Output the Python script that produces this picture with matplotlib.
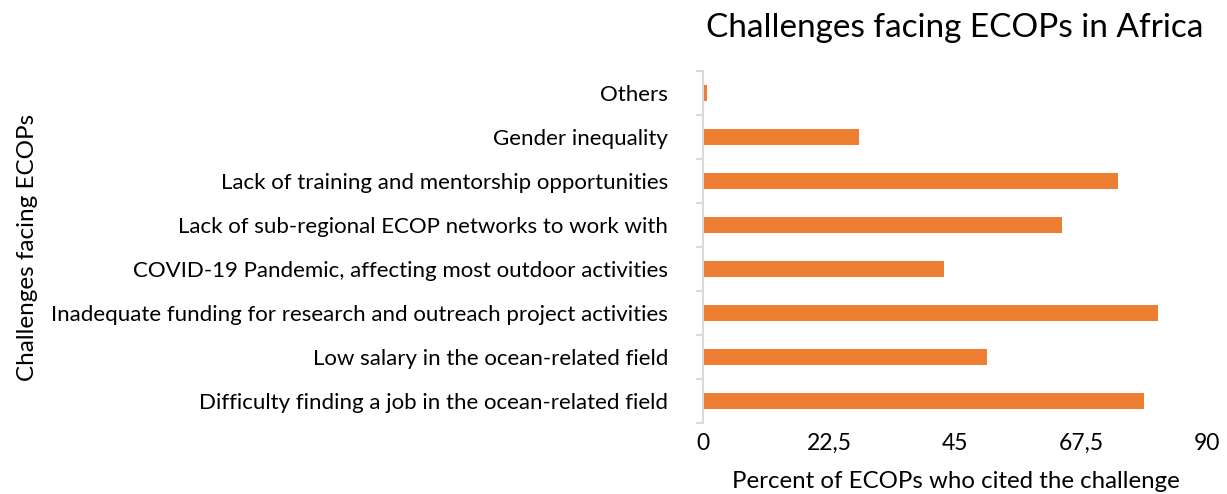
import matplotlib as mpl
mpl.use('Agg')
import matplotlib.pyplot as plt
import numpy as np

plt.rcParams['font.family'] = ['Lato', 'DejaVu Sans']

# data, bottom to top as drawn
challenges = [
    'Difficulty finding a job in the ocean-related field',
    'Low salary in the ocean-related field',
    'Inadequate funding for research and outreach project activities',
    'COVID-19 Pandemic, affecting most outdoor activities',
    'Lack of sub-regional ECOP networks to work with',
    'Lack of training and mentorship opportunities',
    'Gender inequality',
    'Others',
]
percent = [78.8, 50.7, 81.2, 43.0, 64.1, 74.1, 27.9, 0.65]
xticks = [0, 22.5, 45, 67.5, 90]
xtick_labels = ['0', '22,5', '45', '67,5', '90']

fig = plt.figure(figsize=(12.27, 4.94), dpi=100)
ax = fig.add_axes([703/1227, 1-423/494, 504/1227, 352/494])

y = np.arange(len(challenges))
ax.barh(y, percent, height=0.36, color='#ED7D31')

ax.set_xlim(0, 90)
ax.set_ylim(-0.5, len(challenges)-0.5)

ax.set_xticks(xticks)
ax.set_xticklabels(xtick_labels, fontsize=16.5)
ax.tick_params(axis='x', length=0, pad=7)

ax.set_yticks(y)
ax.set_yticklabels(challenges, fontsize=16)
ax.tick_params(axis='y', which='major', length=0, pad=25)
ax.set_yticks(np.arange(-0.5, len(challenges), 1), minor=True)
ax.tick_params(axis='y', which='minor', length=5, width=1.5, color='#d9d9d9')

for s in ['top', 'right', 'bottom']:
    ax.spines[s].set_visible(False)
ax.spines['left'].set_color('#d9d9d9')
ax.spines['left'].set_linewidth(1.5)

fig.text(955/1227, 1-28/494, 'Challenges facing ECOPs in Africa', fontsize=24,
         ha='center', va='center')
fig.text(956/1227, 1-481/494, 'Percent of ECOPs who cited the challenge', fontsize=17.3,
         ha='center', va='center')
fig.text(28/1227, 1-247/494, 'Challenges facing ECOPs', fontsize=17.5,
         ha='center', va='center', rotation=90)

fig.savefig('out.png', dpi=100)
